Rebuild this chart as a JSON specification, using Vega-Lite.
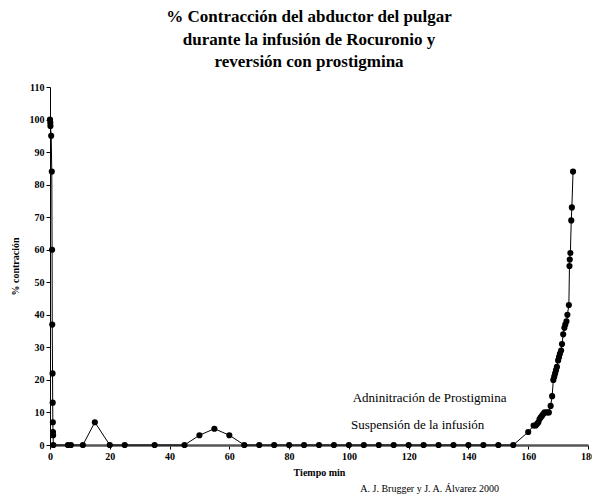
{
  "$schema": "https://vega.github.io/schema/vega-lite/v6.json",
  "width": 538,
  "height": 358,
  "autosize": {"type": "none"},
  "padding": {"left": 50, "top": 87, "right": 4, "bottom": 54},
  "background": "white",
  "title": {
    "text": ["% Contracción del abductor del pulgar", "durante la infusión de Rocuronio y", "reversión con prostigmina"],
    "anchor": "middle",
    "font": "Liberation Serif",
    "fontSize": 17,
    "fontWeight": "bold",
    "lineHeight": 22.5,
    "offset": 11,
    "dx": -10,
    "color": "black"
  },
  "config": {
    "view": {"stroke": null},
    "axis": {
      "labelFont": "Liberation Serif",
      "labelFontWeight": "bold",
      "labelFontSize": 10,
      "labelColor": "black",
      "labelOverlap": false,
      "labelBound": false,
      "labelFlush": false,
      "titleFont": "Liberation Serif",
      "titleFontWeight": "bold",
      "titleFontSize": 10,
      "titleColor": "black",
      "domainColor": "black",
      "tickColor": "black",
      "tickSize": 4,
      "labelPadding": 2,
      "grid": false
    },
    "axisX": {"domainWidth": 2.5, "domainColor": "#555555", "titleY": 22},
    "axisY": {"titleX": -30}
  },
  "data": {
    "values": [
      {"t": 0, "pct": 100}, {"t": 0.1, "pct": 99}, {"t": 0.15, "pct": 98}, {"t": 0.4, "pct": 95},
      {"t": 0.6, "pct": 84}, {"t": 0.7, "pct": 60}, {"t": 0.75, "pct": 37}, {"t": 0.85, "pct": 22},
      {"t": 0.9, "pct": 13}, {"t": 0.95, "pct": 7}, {"t": 1.0, "pct": 4}, {"t": 1.05, "pct": 3},
      {"t": 1.1, "pct": 0}, {"t": 6, "pct": 0}, {"t": 7, "pct": 0}, {"t": 11, "pct": 0},
      {"t": 15, "pct": 7}, {"t": 20, "pct": 0}, {"t": 25, "pct": 0}, {"t": 35, "pct": 0},
      {"t": 45, "pct": 0}, {"t": 50, "pct": 3}, {"t": 55, "pct": 5}, {"t": 60, "pct": 3},
      {"t": 65, "pct": 0}, {"t": 70, "pct": 0}, {"t": 75, "pct": 0}, {"t": 80, "pct": 0},
      {"t": 85, "pct": 0}, {"t": 90, "pct": 0}, {"t": 95, "pct": 0}, {"t": 100, "pct": 0},
      {"t": 105, "pct": 0}, {"t": 110, "pct": 0}, {"t": 115, "pct": 0}, {"t": 120, "pct": 0},
      {"t": 125, "pct": 0}, {"t": 130, "pct": 0}, {"t": 135, "pct": 0}, {"t": 140, "pct": 0},
      {"t": 145, "pct": 0}, {"t": 150, "pct": 0}, {"t": 155, "pct": 0},
      {"t": 160, "pct": 4}, {"t": 161.8, "pct": 6}, {"t": 162.5, "pct": 6}, {"t": 163, "pct": 6.5},
      {"t": 163.4, "pct": 7}, {"t": 163.8, "pct": 8}, {"t": 164.2, "pct": 8.5}, {"t": 164.6, "pct": 9},
      {"t": 165, "pct": 9.5}, {"t": 165.5, "pct": 10}, {"t": 166.3, "pct": 10}, {"t": 166.9, "pct": 10},
      {"t": 167.5, "pct": 12}, {"t": 168, "pct": 15}, {"t": 168.4, "pct": 20}, {"t": 168.7, "pct": 21},
      {"t": 169, "pct": 22}, {"t": 169.3, "pct": 23}, {"t": 169.6, "pct": 24}, {"t": 170, "pct": 26},
      {"t": 170.3, "pct": 27}, {"t": 170.6, "pct": 28}, {"t": 171, "pct": 29}, {"t": 171.3, "pct": 31},
      {"t": 171.7, "pct": 34}, {"t": 172.1, "pct": 36}, {"t": 172.4, "pct": 37}, {"t": 172.8, "pct": 38},
      {"t": 173.1, "pct": 40}, {"t": 173.6, "pct": 43}, {"t": 173.8, "pct": 55}, {"t": 173.9, "pct": 57},
      {"t": 174.1, "pct": 59}, {"t": 174.4, "pct": 69}, {"t": 174.6, "pct": 73}, {"t": 175, "pct": 84}
    ]
  },
  "layer": [
    {
      "mark": {"type": "line", "color": "black", "strokeWidth": 1, "point": {"filled": true, "color": "black", "size": 38}},
      "encoding": {
        "x": {
          "field": "t", "type": "quantitative",
          "scale": {"domain": [0, 180], "nice": false, "zero": false},
          "axis": {"values": [0, 20, 40, 60, 80, 100, 120, 140, 160, 180], "title": "Tiempo min", "labelBound": false}
        },
        "y": {
          "field": "pct", "type": "quantitative",
          "scale": {"domain": [0, 110], "nice": false},
          "axis": {"values": [0, 10, 20, 30, 40, 50, 60, 70, 80, 90, 100, 110], "title": "% contración"}
        }
      }
    },
    {
      "data": {"values": [{"label": "Adninitración de Prostigmina"}]},
      "mark": {"type": "text", "font": "Liberation Serif", "fontSize": 13, "color": "black", "align": "center", "baseline": "middle"},
      "encoding": {
        "x": {"datum": 127, "type": "quantitative", "axis": {"values": [0, 20, 40, 60, 80, 100, 120, 140, 160, 180], "title": "Tiempo min", "labelBound": false}},
        "y": {"datum": 14.4, "type": "quantitative", "axis": {"values": [0, 10, 20, 30, 40, 50, 60, 70, 80, 90, 100, 110], "title": "% contración"}},
        "text": {"field": "label"}
      }
    },
    {
      "data": {"values": [{"label": "Suspensión de la infusión"}]},
      "mark": {"type": "text", "font": "Liberation Serif", "fontSize": 13, "color": "black", "align": "center", "baseline": "middle"},
      "encoding": {
        "x": {"datum": 123, "type": "quantitative", "axis": {"values": [0, 20, 40, 60, 80, 100, 120, 140, 160, 180], "title": "Tiempo min", "labelBound": false}},
        "y": {"datum": 6.1, "type": "quantitative", "axis": {"values": [0, 10, 20, 30, 40, 50, 60, 70, 80, 90, 100, 110], "title": "% contración"}},
        "text": {"field": "label"}
      }
    },
    {
      "data": {"values": [{"label": "A. J. Brugger y J. A. Álvarez 2000"}]},
      "mark": {"type": "text", "font": "Liberation Serif", "fontSize": 10, "color": "black", "align": "center", "baseline": "middle"},
      "encoding": {
        "x": {"datum": 127, "type": "quantitative", "axis": {"values": [0, 20, 40, 60, 80, 100, 120, 140, 160, 180], "title": "Tiempo min", "labelBound": false}},
        "y": {"datum": -13.5, "type": "quantitative", "axis": {"values": [0, 10, 20, 30, 40, 50, 60, 70, 80, 90, 100, 110], "title": "% contración"}},
        "text": {"field": "label"}
      }
    }
  ]
}
